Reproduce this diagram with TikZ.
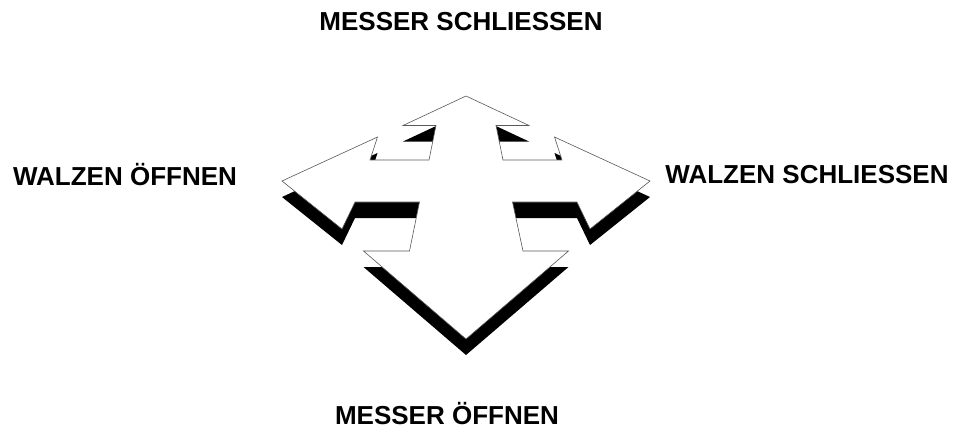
\documentclass[tikz,border=0pt]{standalone}
\usepackage{fontspec}
\setmainfont{Liberation Sans}
\begin{document}
\begin{tikzpicture}[x=1pt,y=-1pt,
  lbl/.style={font=\bfseries\fontsize{26}{30}\selectfont, inner sep=0pt},
  face/.style={fill=white, draw=black!65, line width=0.6pt, line join=miter},
  shade/.style={fill=black, draw=none}]
\useasboundingbox (0,0) rectangle (962,432);
\newcommand{\crossarrow}{(466,96) -- (529,125.5) -- (496,125.5) -- (503,160) -- (562,160) -- (554.5,137) -- (650,181) -- (590,229) -- (577,202) -- (512.5,202) -- (523,251) -- (568.5,251) -- (466,339) -- (363.5,251) -- (409.5,251) -- (419.5,202) -- (355,202) -- (342,229) -- (282,181) -- (377.5,137) -- (370,160) -- (429,160) -- (436,125.5) -- (403,125.5) -- cycle}
\fill[shade, yshift=-16pt] \crossarrow;
\filldraw[face] \crossarrow;
\node[lbl] (top) at (461,22) {MESSER SCHLIESSEN};
\node[lbl] (left) at (125,175) {WALZEN ÖFFNEN};
\node[lbl] (right) at (807,175) {WALZEN SCHLIESSEN};
\node[lbl] (bottom) at (447,414) {MESSER ÖFFNEN};
\end{tikzpicture}
\end{document}
